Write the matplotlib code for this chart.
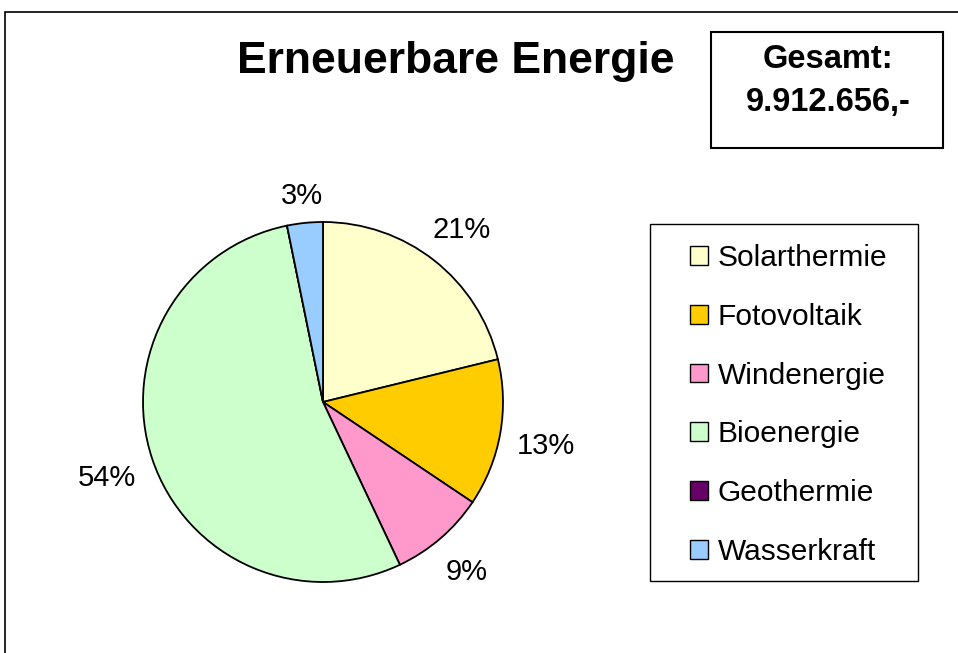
import numpy as np
import matplotlib.pyplot as plt
from matplotlib.patches import Patch, Rectangle

plt.rcParams['font.family'] = ['Liberation Sans', 'DejaVu Sans']

# Daten
kategorien = ['Solarthermie', 'Fotovoltaik', 'Windenergie', 'Bioenergie', 'Geothermie', 'Wasserkraft']
betraege = [2100000, 1310000, 850000, 5335000, 0, 317656]
farben = ['#FFFFCC', '#FFCC00', '#FF99CC', '#CCFFCC', '#660066', '#99CCFF']
titel = 'Erneuerbare Energie'

gesamt = sum(betraege)
gesamt_text = f'{gesamt:,}'.replace(',', '.') + ',-'

W, H = 958, 653
fig = plt.figure(figsize=(W / 100, H / 100), dpi=100)

# äußerer Rahmen (rechts und unten abgeschnitten)
fig.patches.append(Rectangle((5 / W, -0.1), 1.2, 1.1 - 12 / H, transform=fig.transFigure,
                             fill=False, edgecolor='black', linewidth=1.2))

# Kreisdiagramm
cx, cy, r = 323, 402, 180
ax = fig.add_axes([(cx - r) / W, (H - cy - r) / H, 2 * r / W, 2 * r / H])


def pct_label(p):
    return f'{p:.0f}%' if p >= 0.5 else ''


wedges, texts, autotexts = ax.pie(betraege, colors=farben, startangle=90, counterclock=False,
                                  autopct=pct_label, pctdistance=1.25,
                                  wedgeprops=dict(edgecolor='black', linewidth=1.3),
                                  textprops=dict(fontsize=21))
ax.set_xlim(-1, 1)
ax.set_ylim(-1, 1)

# Beschriftungen wie bei Excel: Textrahmen knapp außerhalb des Kreises
fig.canvas.draw()
renderer = fig.canvas.get_renderer()
abstand = 0.085
for t in autotexts:
    if not t.get_text():
        continue
    x, y = t.get_position()
    ang = np.arctan2(y, x)
    bb = t.get_window_extent(renderer)
    hw, hh = bb.width / 2 / r, bb.height / 2 / r
    d = 1 + abstand + hw * abs(np.cos(ang)) + hh * abs(np.sin(ang))
    t.set_position((d * np.cos(ang), d * np.sin(ang) - 4 / r))

# Titel
fig.text(456 / W, 1 - 62 / H, titel, ha='center', va='center', fontsize=32, fontweight='bold')

# Gesamt-Box
fig.patches.append(Rectangle((711 / W, 1 - 148 / H), 232 / W, 116 / H, transform=fig.transFigure,
                             fill=False, edgecolor='black', linewidth=1.5))
fig.text(828 / W, 1 - 60 / H, 'Gesamt:', ha='center', va='center', fontsize=23.5, fontweight='bold')
fig.text(828 / W, 1 - 103 / H, gesamt_text, ha='center', va='center', fontsize=23.5, fontweight='bold')

# Legende
fig.patches.append(Rectangle((650 / W, 1 - 581 / H), 268 / W, 357 / H, transform=fig.transFigure,
                             fill=False, edgecolor='black', linewidth=1.0))
handles = [Patch(facecolor=c, edgecolor='black', linewidth=1.0) for c in farben]
fig.legend(handles, kategorien, loc='upper left', bbox_to_anchor=(690 / W, 1 - 244 / H),
           frameon=False, fontsize=21.5, handlelength=0.6, handleheight=0.6,
           handletextpad=0.33, labelspacing=1.03, borderpad=0, borderaxespad=0)

fig.savefig('out.png', dpi=100)
